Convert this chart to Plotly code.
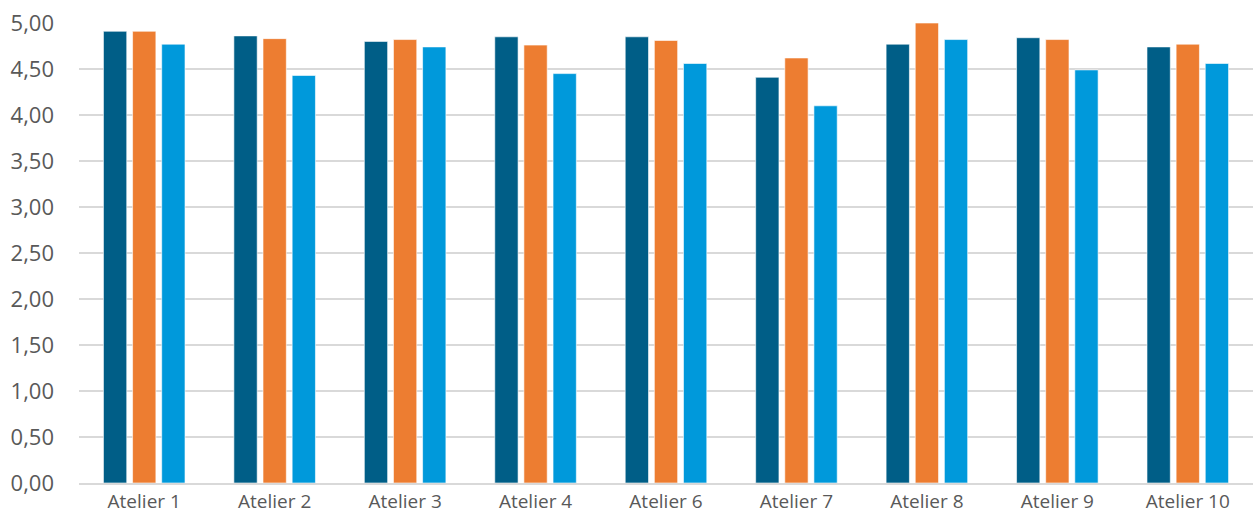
import plotly.graph_objects as go

categories = ["Atelier 1", "Atelier 2", "Atelier 3", "Atelier 4", "Atelier 6",
              "Atelier 7", "Atelier 8", "Atelier 9", "Atelier 10"]
series_1 = [4.91, 4.86, 4.80, 4.85, 4.85, 4.41, 4.77, 4.84, 4.74]
series_2 = [4.91, 4.83, 4.82, 4.76, 4.81, 4.62, 5.00, 4.82, 4.77]
series_3 = [4.77, 4.43, 4.74, 4.45, 4.56, 4.10, 4.82, 4.49, 4.56]
series_names = ["Série 1", "Série 2", "Série 3"]
colors = ["#005E87", "#ED7D31", "#0099DB"]
y_ticks = [0, 0.5, 1, 1.5, 2, 2.5, 3, 3.5, 4, 4.5, 5]

fig = go.Figure()
for name, vals, col in zip(series_names, [series_1, series_2, series_3], colors):
    fig.add_trace(go.Bar(
        x=categories, y=vals, name=name,
        marker=dict(color=col, line=dict(color="rgba(255,255,255,0.6)", width=1)),
    ))

font_family = "Open Sans, Segoe UI, Liberation Sans, sans-serif"
fig.update_layout(
    width=1255, height=514,
    margin=dict(l=79, r=2, t=23, b=31),
    paper_bgcolor="white", plot_bgcolor="white",
    barmode="group", bargap=0.33, bargroupgap=0.2,
    showlegend=False,
    separators=", ",
    font=dict(family=font_family, size=21, color="#595959"),
)
fig.update_yaxes(
    range=[0, 5], tickvals=y_ticks, tickformat=".2f",
    showgrid=True, gridcolor="#D9D9D9", gridwidth=1.5,
    zeroline=False, showline=False, ticks="",
    ticklabelstandoff=24, automargin=False,
    tickfont=dict(size=22, color="#595959"),
)
fig.update_xaxes(
    showline=True, linecolor="#D9D9D9", linewidth=1.5,
    ticks="", automargin=False, ticklabelstandoff=0,
    tickfont=dict(size=19, color="#595959"),
)
fig.write_html("out.html")
